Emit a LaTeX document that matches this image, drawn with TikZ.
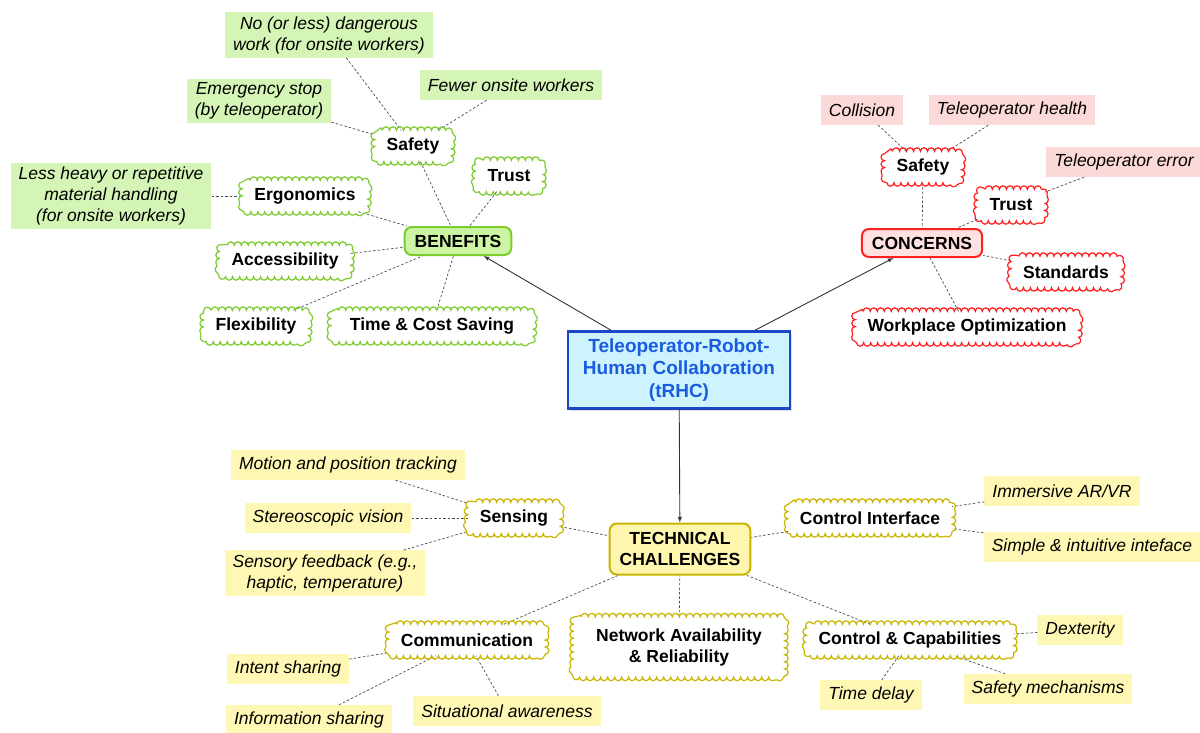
\documentclass[tikz,border=0pt]{standalone}
\usepackage{fontspec}
\setmainfont{Liberation Sans}
\usetikzlibrary{arrows,decorations.pathmorphing,shadows}

\definecolor{cblue}{HTML}{1C46C4}
\definecolor{cfill}{HTML}{CDF3FF}
\definecolor{ctext}{HTML}{1A5BE0}
\definecolor{gline}{HTML}{7DCB2E}
\definecolor{gfill}{HTML}{D4F5B6}
\definecolor{ghub}{HTML}{CCF4A2}
\definecolor{rline}{HTML}{FF2020}
\definecolor{rfill}{HTML}{FCD9D9}
\definecolor{rhub}{HTML}{FFE1E1}
\definecolor{yline}{HTML}{C9B500}
\definecolor{yfill}{HTML}{FFF8B4}
\definecolor{yhub}{HTML}{FFF6B0}

% scalloped outline round a named node
\newcommand\bubbleedge[2]{%
  \draw[#2, line width=1.2pt, decorate, decoration={bumps, segment length=14pt, amplitude=3.5pt}]
    ([xshift=8pt]#1.north west) -- ([xshift=-8pt]#1.north east)
    arc[start angle=90, end angle=0, radius=8pt] -- ([yshift=8pt]#1.south east)
    arc[start angle=0, end angle=-90, radius=8pt] -- ([xshift=8pt]#1.south west)
    arc[start angle=270, end angle=180, radius=8pt] -- ([yshift=-8pt]#1.north west)
    arc[start angle=180, end angle=90, radius=8pt] -- cycle;}

\begin{document}
\begin{tikzpicture}[x=1pt,y=-1pt,
    font=\fontsize{17.5}{21}\selectfont,
    hub/.style={rectangle, rounded corners=7pt, line width=2pt, font=\fontsize{17.5}{21}\selectfont\bfseries, align=center, inner xsep=10pt, minimum height=28pt},
    bubble/.style={rectangle, fill=white, font=\fontsize{17.5}{21}\selectfont\bfseries, inner xsep=12pt, minimum height=31pt, align=center},
    leaf/.style={rectangle, fill=#1, font=\fontsize{17.5}{21}\selectfont\itshape, inner xsep=8pt, inner ysep=4pt, minimum height=30pt, align=center},
    link/.style={draw=black!70, line width=0.7pt, dash pattern=on 2.5pt off 2pt},
    branch/.style={draw=black!80, line width=0.9pt, ->, >=latex}]
    \useasboundingbox (0,0) rectangle (1200,733);

    % centre
    \node(main) [rectangle, draw=cblue, line width=2.5pt, fill=cfill, text=ctext, font=\fontsize{19}{22.5}\selectfont\bfseries, align=center, minimum width=222pt, minimum height=77pt, drop shadow={opacity=0.25, shadow xshift=2pt, shadow yshift=-2pt}] at (679,370) {Teleoperator-Robot-\\Human Collaboration\\(tRHC)};

    \node(ben) [hub, draw=gline, fill=ghub] at (458,241) {BENEFITS};
    \node(con) [hub, draw=rline, fill=rhub] at (922,243) {CONCERNS};
    \node(tech) [hub, draw=yline, fill=yhub, minimum width=139pt, minimum height=51pt] at (680,549) {TECHNICAL\\CHALLENGES};

    \draw[branch] (main) -- (ben);
    \draw[branch] (main) -- (con);
    \draw[branch] (main) -- (tech);

    % benefits
    \node(bsafe) [bubble] at (413,146) {Safety};
    \node(btrust) [bubble] at (509,176) {Trust};
    \node(bergo) [bubble] at (305,196) {Ergonomics};
    \node(bacc) [bubble] at (285,261) {Accessibility};
    \node(bflex) [bubble] at (256,326) {Flexibility};
    \node(btime) [bubble, minimum width=202pt] at (432,326) {Time \& Cost Saving};

    \node(bnodanger) [leaf=gfill] at (329,35) {No (or less) dangerous\\work (for onsite workers)};
    \node(bstop) [leaf=gfill] at (259,101) {Emergency stop\\(by teleoperator)};
    \node(bfewer) [leaf=gfill] at (511,85) {Fewer onsite workers};
    \node(bheavy) [leaf=gfill] at (111,196) {Less heavy or repetitive\\material handling\\(for onsite workers)};

    \foreach \n in {bsafe,btrust,bergo,bacc,bflex,btime}
        \draw[link] (\n) -- (ben);
    \foreach \n in {bnodanger,bstop,bfewer}
        \draw[link] (\n) -- (bsafe);
    \draw[link] (bheavy) -- (bergo);
    \foreach \n in {bsafe,btrust,bergo,bacc,bflex,btime}
        \bubbleedge{\n}{gline};

    % concerns
    \node(csafe) [bubble] at (923,167) {Safety};
    \node(ctrust) [bubble] at (1011,205) {Trust};
    \node(cstd) [bubble] at (1066,272) {Standards};
    \node(cwork) [bubble] at (967,327) {Workplace Optimization};

    \node(ccoll) [leaf=rfill] at (862,110) {Collision};
    \node(chealth) [leaf=rfill] at (1012,110) {Teleoperator health};
    \node(cerror) [leaf=rfill] at (1124,162) {Teleoperator error};

    \foreach \n in {csafe,ctrust,cstd,cwork}
        \draw[link] (\n) -- (con);
    \draw[link] (ccoll) -- (csafe);
    \draw[link] (chealth) -- (csafe);
    \draw[link] (cerror) -- (ctrust);
    \foreach \n in {csafe,ctrust,cstd,cwork}
        \bubbleedge{\n}{rline};

    % technical challenges
    \node(tsens) [bubble] at (514,518) {Sensing};
    \node(tctrl) [bubble] at (870,518) {Control Interface};
    \node(tcomm) [bubble] at (467,640) {Communication};
    \node(tnet) [bubble, minimum width=211pt, minimum height=60pt] at (679,647) {Network Availability\\\& Reliability};
    \node(tcap) [bubble] at (910,640) {Control \& Capabilities};

    \node(tmotion) [leaf=yfill] at (348,465) {Motion and position tracking};
    \node(tstereo) [leaf=yfill] at (328,518) {Stereoscopic vision};
    \node(tfeed) [leaf=yfill] at (325,573) {Sensory feedback (e.g.,\\haptic, temperature)};
    \node(tvr) [leaf=yfill] at (1062,491) {Immersive AR/VR};
    \node(tsimple) [leaf=yfill] at (1092,547) {Simple \& intuitive inteface};
    \node(tintent) [leaf=yfill] at (288,669) {Intent sharing};
    \node(tinfo) [leaf=yfill] at (309,720) {Information sharing};
    \node(tsitu) [leaf=yfill] at (507,711) {Situational awareness};
    \node(tdex) [leaf=yfill] at (1080,630) {Dexterity};
    \node(tdelay) [leaf=yfill] at (871,695) {Time delay};
    \node(tmech) [leaf=yfill] at (1048,689) {Safety mechanisms};

    \foreach \n in {tsens,tctrl,tcomm,tnet,tcap}
        \draw[link] (\n) -- (tech);
    \foreach \n in {tmotion,tstereo,tfeed}
        \draw[link] (\n) -- (tsens);
    \foreach \n in {tvr,tsimple}
        \draw[link] (\n) -- (tctrl);
    \foreach \n in {tintent,tinfo,tsitu}
        \draw[link] (\n) -- (tcomm);
    \foreach \n in {tdex,tdelay,tmech}
        \draw[link] (\n) -- (tcap);
    \foreach \n in {tsens,tctrl,tcomm,tnet,tcap}
        \bubbleedge{\n}{yline};
\end{tikzpicture}
\end{document}
